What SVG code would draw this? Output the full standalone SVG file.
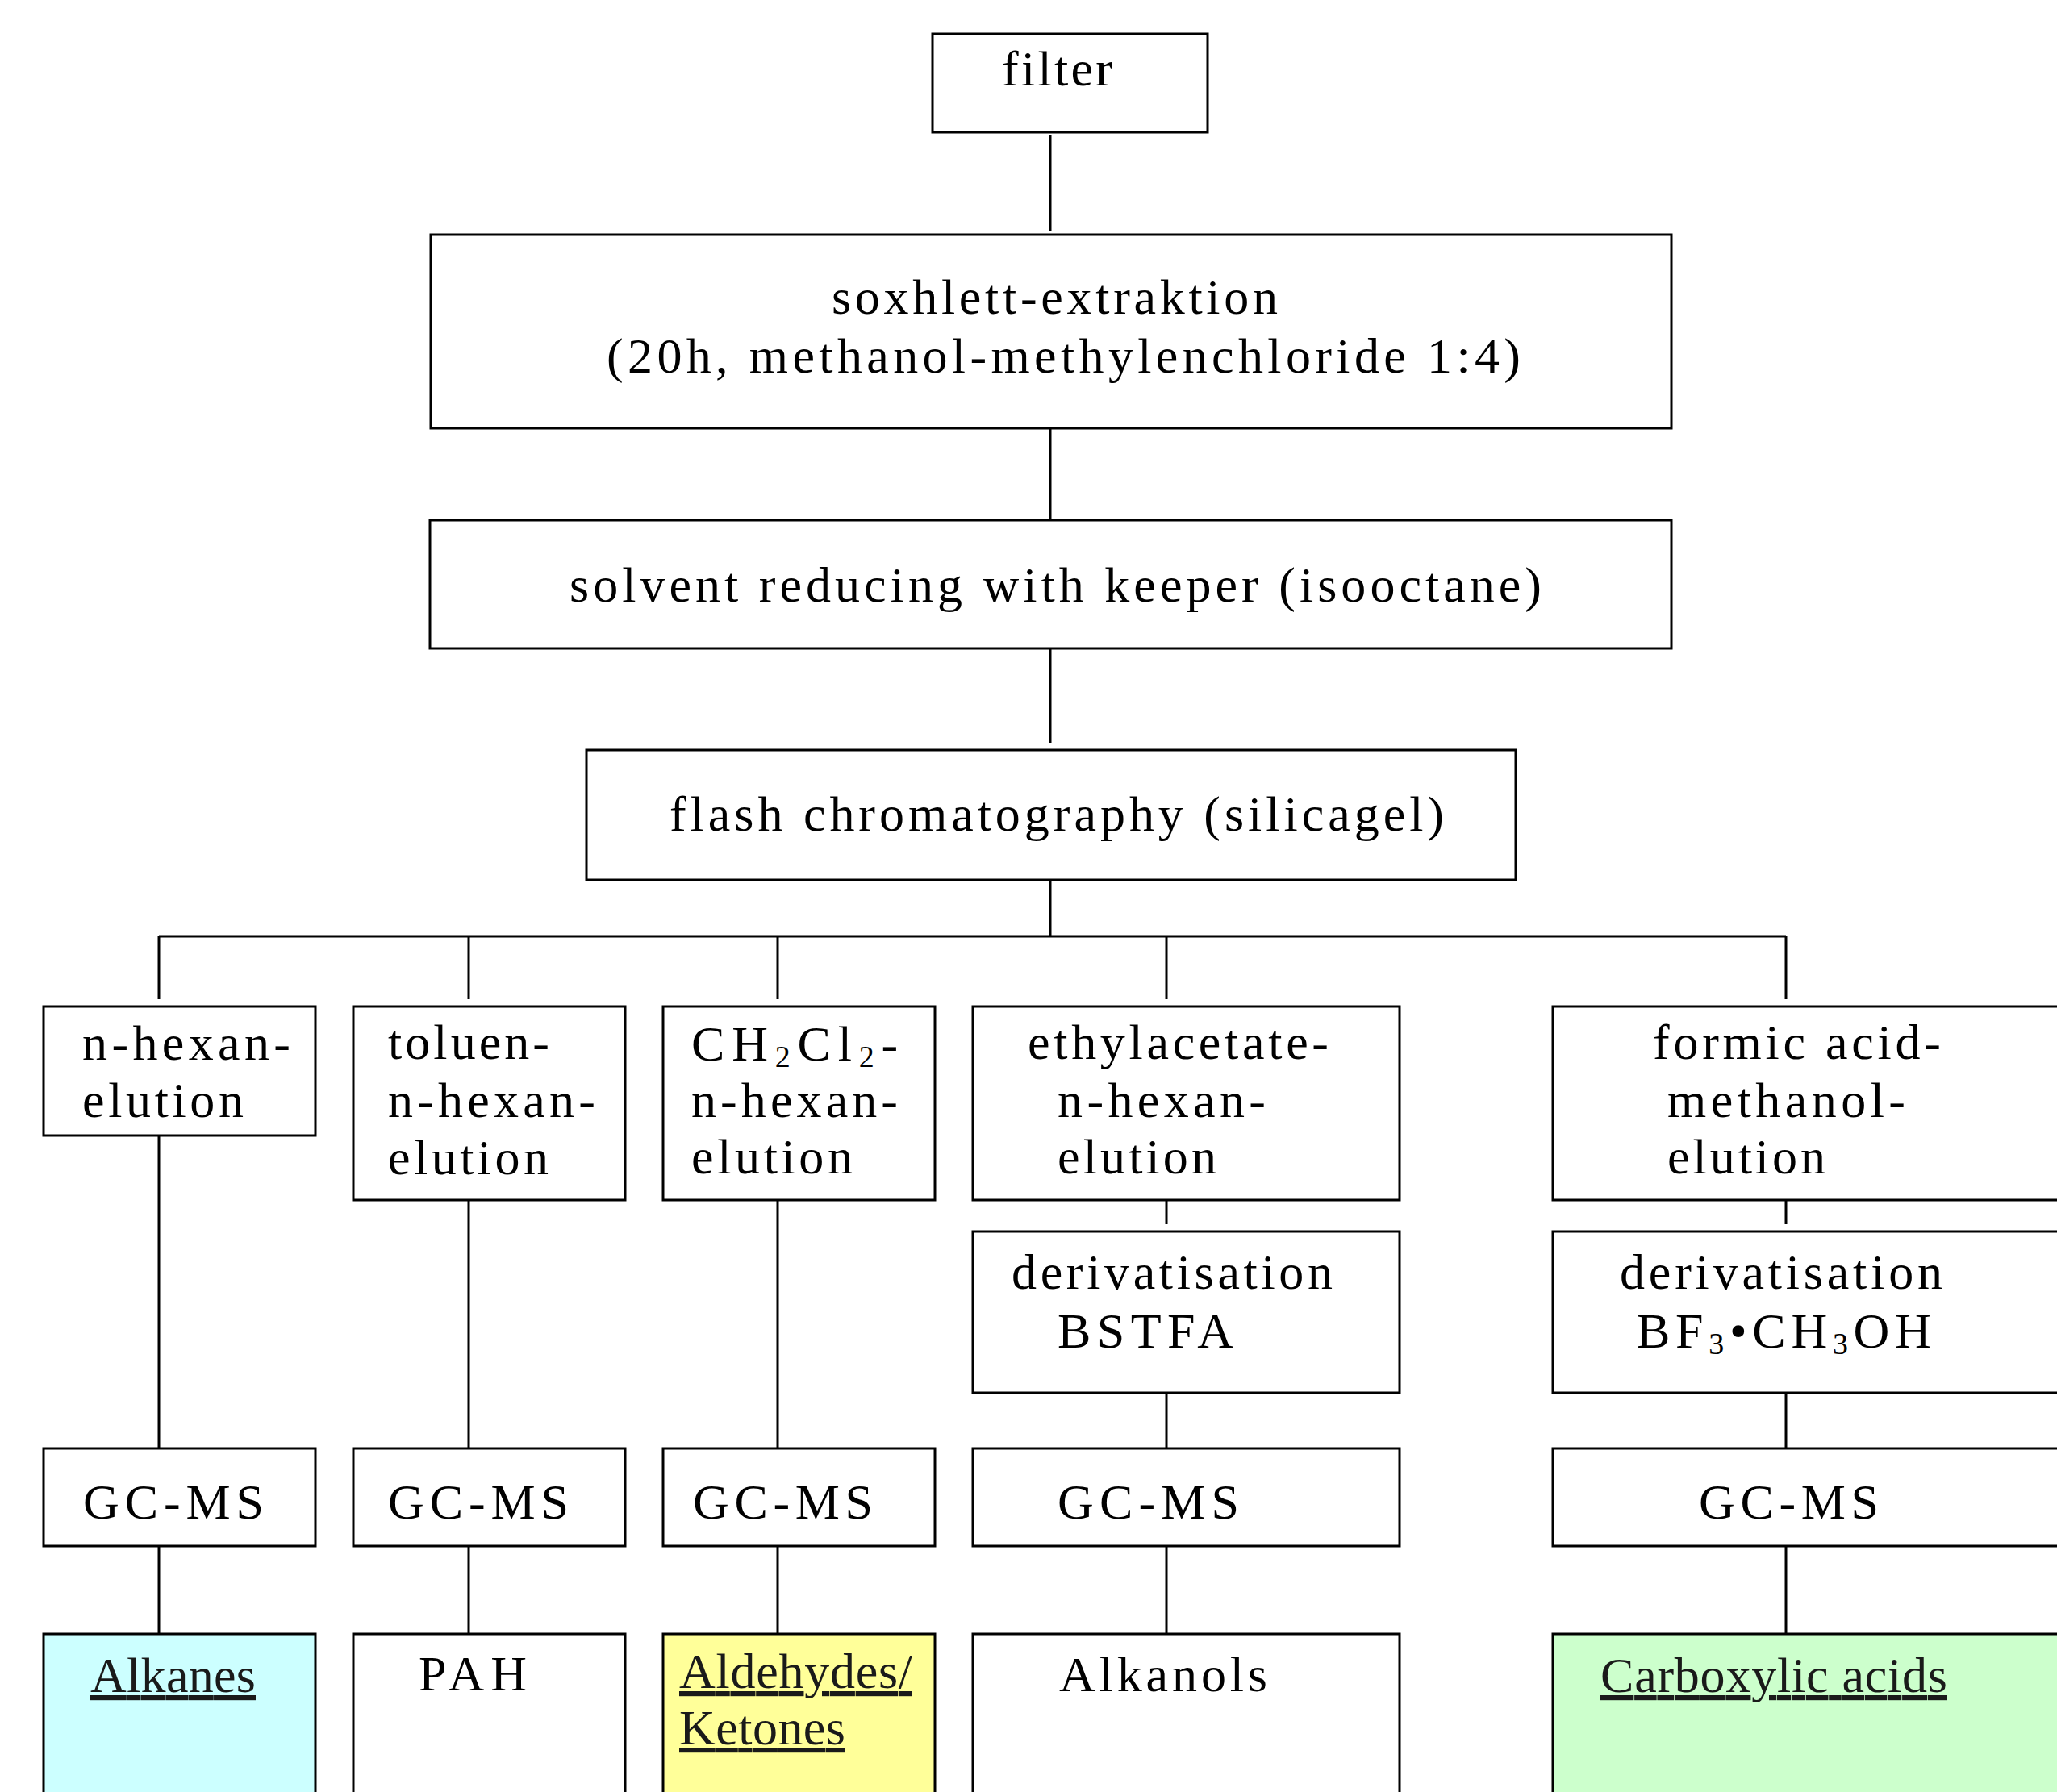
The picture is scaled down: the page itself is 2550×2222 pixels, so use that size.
<svg xmlns="http://www.w3.org/2000/svg" width="2550" height="2222" viewBox="0 0 2550 2222">
<style>
.box{fill:#fff;stroke:#000;stroke-width:3}
.cy{fill:#ccffff;stroke:#000;stroke-width:3}
.ye{fill:#ffff99;stroke:#000;stroke-width:3}
.gr{fill:#ccffcc;stroke:#000;stroke-width:3}
.ln{stroke:#000;stroke-width:3;fill:none}
text{font-family:"Liberation Serif","Times New Roman",serif;font-size:62px;fill:#000}
.u{fill:#1a1a1a;text-decoration:underline}
.sub{font-size:38px}
</style>
<rect width="2550" height="2222" fill="#fff"/>
<g id="connectors">
<line class="ln" x1="1302" y1="167" x2="1302" y2="286"/>
<line class="ln" x1="1302" y1="525" x2="1302" y2="645"/>
<line class="ln" x1="1302" y1="804" x2="1302" y2="921"/>
<line class="ln" x1="1302" y1="1082" x2="1302" y2="1161"/>
<line class="ln" x1="197" y1="1161" x2="2214" y2="1161"/>
<line class="ln" x1="197" y1="1161" x2="197" y2="1239"/>
<line class="ln" x1="581" y1="1161" x2="581" y2="1239"/>
<line class="ln" x1="964" y1="1161" x2="964" y2="1239"/>
<line class="ln" x1="1446" y1="1161" x2="1446" y2="1239"/>
<line class="ln" x1="2214" y1="1161" x2="2214" y2="1239"/>
<line class="ln" x1="197" y1="1399" x2="197" y2="1796"/>
<line class="ln" x1="581" y1="1478" x2="581" y2="1796"/>
<line class="ln" x1="964" y1="1478" x2="964" y2="1796"/>
<line class="ln" x1="1446" y1="1478" x2="1446" y2="1518"/>
<line class="ln" x1="2214" y1="1478" x2="2214" y2="1518"/>
<line class="ln" x1="1446" y1="1717" x2="1446" y2="1796"/>
<line class="ln" x1="2214" y1="1717" x2="2214" y2="1796"/>
<line class="ln" x1="197" y1="1917" x2="197" y2="2034"/>
<line class="ln" x1="581" y1="1917" x2="581" y2="2034"/>
<line class="ln" x1="964" y1="1917" x2="964" y2="2034"/>
<line class="ln" x1="1446" y1="1917" x2="1446" y2="2034"/>
<line class="ln" x1="2214" y1="1917" x2="2214" y2="2034"/>
</g>
<g id="filter">
<rect class="box" x="1156" y="42" width="341" height="122"/>
<text x="1242" y="106" textLength="137" lengthAdjust="spacing">filter</text>
</g>
<g id="soxhlett">
<rect class="box" x="534" y="291" width="1538" height="240"/>
<text x="1031" y="389" textLength="553" lengthAdjust="spacing">soxhlett-extraktion</text>
<text x="752" y="462" textLength="1133" lengthAdjust="spacing">(20h, methanol-methylenchloride 1:4)</text>
</g>
<g id="solvent">
<rect class="box" x="533" y="645" width="1539" height="159"/>
<text x="706" y="746" textLength="1205" lengthAdjust="spacing">solvent reducing with keeper (isooctane)</text>
</g>
<g id="flash">
<rect class="box" x="727" y="930" width="1152" height="161"/>
<text x="830" y="1030" textLength="960" lengthAdjust="spacing">flash chromatography (silicagel)</text>
</g>
<g id="nhexan">
<rect class="box" x="54" y="1248" width="337" height="160"/>
<text x="102" y="1314" textLength="258" lengthAdjust="spacing">n-hexan-</text>
<text x="102" y="1385" textLength="200" lengthAdjust="spacing">elution</text>
</g>
<g id="toluen">
<rect class="box" x="438" y="1248" width="337" height="240"/>
<text x="481" y="1313" textLength="200" lengthAdjust="spacing">toluen-</text>
<text x="481" y="1385" textLength="257" lengthAdjust="spacing">n-hexan-</text>
<text x="481" y="1456" textLength="199" lengthAdjust="spacing">elution</text>
</g>
<g id="ch2cl2">
<rect class="box" x="822" y="1248" width="337" height="240"/>
<text x="857" y="1315" letter-spacing="8.8">CH<tspan class="sub" dy="8">2</tspan><tspan dy="-8">Cl</tspan><tspan class="sub" dy="8">2</tspan><tspan dy="-8">-</tspan></text>
<text x="857" y="1385" textLength="256" lengthAdjust="spacing">n-hexan-</text>
<text x="857" y="1455" textLength="200" lengthAdjust="spacing">elution</text>
</g>
<g id="ethylacetate">
<rect class="box" x="1206" y="1248" width="529" height="240"/>
<text x="1274" y="1313" textLength="373" lengthAdjust="spacing">ethylacetate-</text>
<text x="1311" y="1385" textLength="258" lengthAdjust="spacing">n-hexan-</text>
<text x="1311" y="1455" textLength="197" lengthAdjust="spacing">elution</text>
</g>
<g id="formic">
<rect class="box" x="1925" y="1248" width="640" height="240"/>
<text x="2049" y="1313" textLength="357" lengthAdjust="spacing">formic acid-</text>
<text x="2067" y="1385" textLength="295" lengthAdjust="spacing">methanol-</text>
<text x="2067" y="1455" textLength="196" lengthAdjust="spacing">elution</text>
</g>
<g id="deriv-bstfa">
<rect class="box" x="1206" y="1527" width="529" height="200"/>
<text x="1254" y="1598" textLength="398" lengthAdjust="spacing">derivatisation</text>
<text x="1311" y="1671" textLength="218" lengthAdjust="spacing">BSTFA</text>
</g>
<g id="deriv-bf3">
<rect class="box" x="1925" y="1527" width="640" height="200"/>
<text x="2008" y="1598" textLength="400" lengthAdjust="spacing">derivatisation</text>
<text x="2029" y="1671" letter-spacing="6.7">BF<tspan class="sub" dy="8">3</tspan><tspan dy="-8">•CH</tspan><tspan class="sub" dy="8">3</tspan><tspan dy="-8">OH</tspan></text>
</g>
<g id="gcms1">
<rect class="box" x="54" y="1796" width="337" height="121"/>
<text x="103" y="1883" textLength="224" lengthAdjust="spacing">GC-MS</text>
</g>
<g id="gcms2">
<rect class="box" x="438" y="1796" width="337" height="121"/>
<text x="481" y="1883" textLength="224" lengthAdjust="spacing">GC-MS</text>
</g>
<g id="gcms3">
<rect class="box" x="822" y="1796" width="337" height="121"/>
<text x="859" y="1883" textLength="223" lengthAdjust="spacing">GC-MS</text>
</g>
<g id="gcms4">
<rect class="box" x="1206" y="1796" width="529" height="121"/>
<text x="1311" y="1883" textLength="225" lengthAdjust="spacing">GC-MS</text>
</g>
<g id="gcms5">
<rect class="box" x="1925" y="1796" width="640" height="121"/>
<text x="2106" y="1883" textLength="223" lengthAdjust="spacing">GC-MS</text>
</g>
<g id="alkanes">
<rect class="cy" x="54" y="2026" width="337" height="220"/>
<text class="u" x="112" y="2098" textLength="205" lengthAdjust="spacing">Alkanes</text>
</g>
<g id="pah">
<rect class="box" x="438" y="2026" width="337" height="220"/>
<text x="519" y="2096" textLength="134" lengthAdjust="spacing">PAH</text>
</g>
<g id="aldehydes">
<rect class="ye" x="822" y="2026" width="337" height="220"/>
<text class="u" x="842" y="2093" textLength="289" lengthAdjust="spacing">Aldehydes/</text>
<text class="u" x="842" y="2163" textLength="206" lengthAdjust="spacing">Ketones</text>
</g>
<g id="alkanols">
<rect class="box" x="1206" y="2026" width="529" height="220"/>
<text x="1313" y="2097" textLength="258" lengthAdjust="spacing">Alkanols</text>
</g>
<g id="carboxylic">
<rect class="gr" x="1925" y="2026" width="640" height="220"/>
<text class="u" x="1984" y="2098" textLength="430" lengthAdjust="spacing">Carboxylic acids</text>
</g>
</svg>
